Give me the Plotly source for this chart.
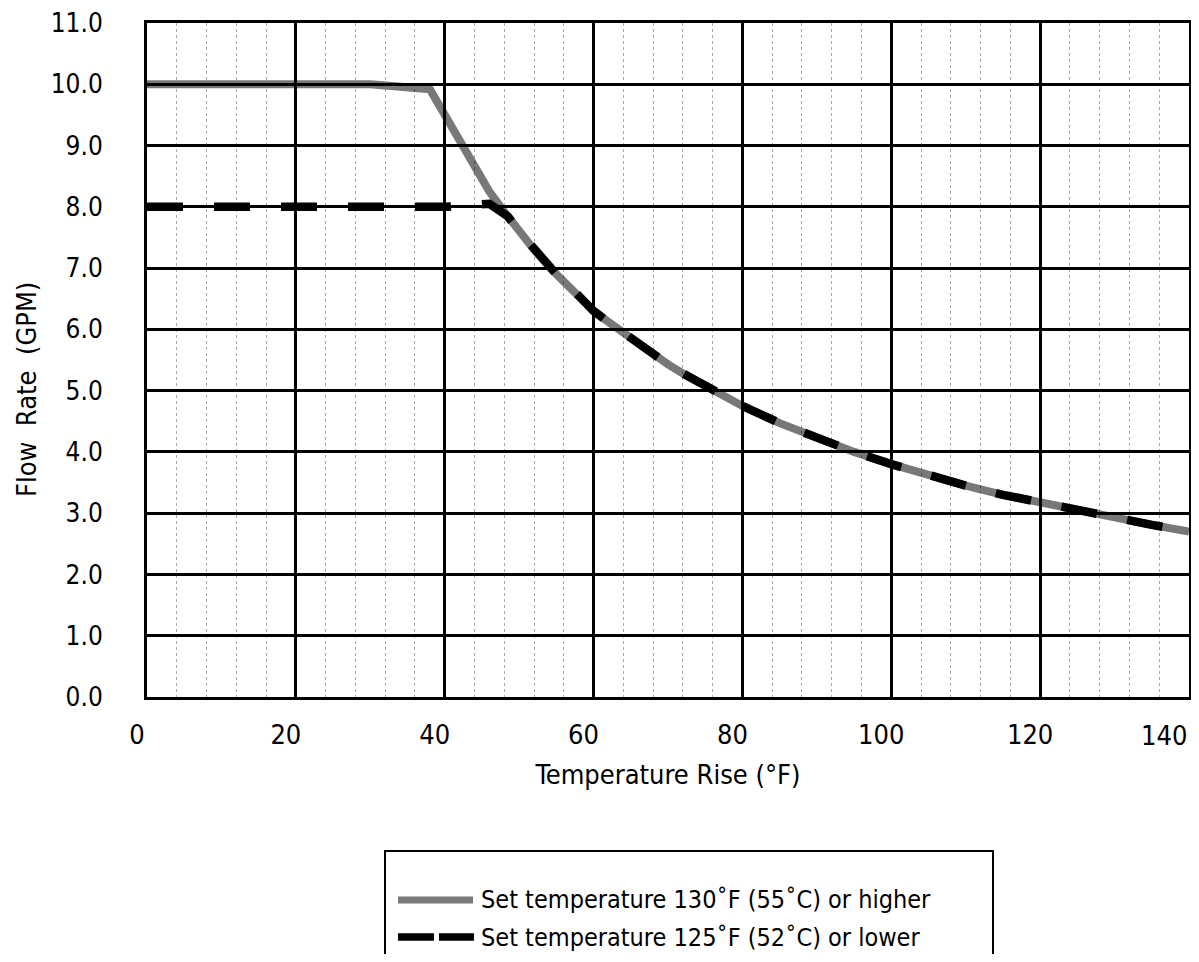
import plotly.graph_objects as go

# Temperature rise (°F) vs max flow rate (GPM)
X_HIGH = [0, 10, 20, 30, 38, 40, 42, 44, 46, 48, 50, 52, 55, 58, 60, 62, 65, 68, 70,
          72, 75, 78, 80, 85, 90, 95, 100, 105, 110, 115, 120, 125, 130, 135, 140]
Y_HIGH = [10.0, 10.0, 10.0, 10.0, 9.92, 9.5, 9.05, 8.65, 8.25, 7.92, 7.6, 7.3, 6.9, 6.55,
          6.3, 6.12, 5.85, 5.6, 5.43, 5.28, 5.07, 4.87, 4.75, 4.47, 4.22, 4.0, 3.8, 3.62,
          3.45, 3.3, 3.17, 3.04, 2.92, 2.81, 2.7]

X_LOW = [0, 10, 20, 30, 40, 46, 48.5, 50, 52, 55, 58, 60, 62, 65, 68, 70, 72, 75, 78, 80,
         85, 90, 95, 100, 105, 110, 115, 120, 125, 130, 135, 140]
Y_LOW = [8.0, 8.0, 8.0, 8.0, 8.0, 8.05, 7.84, 7.6, 7.3, 6.9, 6.55, 6.3, 6.12, 5.85, 5.6,
         5.43, 5.28, 5.07, 4.87, 4.75, 4.47, 4.22, 4.0, 3.8, 3.62, 3.45, 3.3, 3.17, 3.04,
         2.92, 2.81, 2.7]

X_TICKS = [0, 20, 40, 60, 80, 100, 120, 140]
X_TICKTEXT = ["0", "20", "40", "60", "80", "100", "120", ""]  # 140 is drawn right-aligned below

NAME_HIGH = "Set temperature 130˚F (55˚C) or higher"
NAME_LOW = "Set temperature 125˚F (52˚C) or lower"

FONT = "DejaVu Sans Condensed, Liberation Sans Narrow, sans-serif"
GRAY = "rgba(0,0,0,0.53)"

# page body has an 8px margin, so the figure sits at (8, 8); keep it inside the window
OFF = 8
W, H = 1199 - 2 * OFF, 962 - 2 * OFF
L, T = 147 - OFF, 23 - OFF
R = 2
B = H - (697 - OFF)
PW, PH = W - L - R, H - T - B


def px(xp):
    # page pixel -> paper fraction
    return (xp - OFF - L) / PW


def py(yp):
    return (H - B - (yp - OFF)) / PH


fig = go.Figure()
fig.add_trace(go.Scatter(
    x=X_HIGH, y=Y_HIGH, mode="lines", name=NAME_HIGH,
    line=dict(color=GRAY, width=8),
))
fig.add_trace(go.Scatter(
    x=X_LOW, y=Y_LOW, mode="lines", name=NAME_LOW,
    line=dict(color="black", width=8.5, dash="36px,31px"),
))

# last x tick label, kept inside the figure like the reference
fig.add_annotation(x=X_TICKS[-1], y=py(735), xref="x", yref="paper", text=str(X_TICKS[-1]),
                   showarrow=False, xanchor="right", yanchor="middle",
                   font=dict(size=27, color="black", family=FONT))

# legend drawn by hand to match the wide boxed legend
fig.add_shape(type="rect", xref="paper", yref="paper",
              x0=px(385), x1=px(993), y0=py(851), y1=py(990),
              line=dict(color="black", width=2), fillcolor="white", layer="above")
fig.add_shape(type="line", xref="paper", yref="paper",
              x0=px(398), x1=px(473), y0=py(900), y1=py(900),
              line=dict(color="#7a7a7a", width=7))
fig.add_shape(type="line", xref="paper", yref="paper",
              x0=px(398), x1=px(474), y0=py(937), y1=py(937),
              line=dict(color="black", width=7.5, dash="36px,5px"))
for name, yy in [(NAME_HIGH, 900), (NAME_LOW, 937)]:
    fig.add_annotation(x=px(479), y=py(yy), xref="paper", yref="paper", text=name,
                       showarrow=False, xanchor="left", yanchor="middle",
                       font=dict(size=25, color="black", family=FONT))

# y axis title placed by hand (sits a little below the plot centre)
fig.add_annotation(x=px(26), y=py(390), xref="paper", yref="paper",
                   text="Flow\u00a0\u00a0Rate\u00a0\u00a0(GPM)", textangle=-90,
                   showarrow=False, xanchor="center", yanchor="middle",
                   font=dict(size=27, color="black", family=FONT))

axis_common = dict(
    showline=True, mirror=True, linecolor="black", linewidth=3,
    gridcolor="black", gridwidth=2.5, zeroline=False, ticks="",
    ticklabeloverflow="allow", automargin=False,
    tickfont=dict(size=27, color="black", family=FONT),
)

fig.update_layout(
    width=W, height=H,
    margin=dict(l=L, r=R, t=T, b=B),
    paper_bgcolor="white", plot_bgcolor="white",
    font=dict(family=FONT, color="black"),
    showlegend=False,
    xaxis=dict(
        **axis_common, range=[0, 140], tickvals=X_TICKS, ticktext=X_TICKTEXT,
        ticklabelstandoff=12, ticklabelshift=-10,
        minor=dict(dtick=4, tick0=0, showgrid=True, gridcolor="#a8a8a8", gridwidth=1, griddash="dot"),
        title=dict(text="Temperature Rise (°F)", font=dict(size=27, family=FONT), standoff=16),
    ),
    yaxis=dict(
        **axis_common, range=[0, 11], dtick=1, tick0=0, tickformat=".1f",
        ticklabelstandoff=36, tickfont_size=26,
    ),
)

fig.write_html("out.html")
